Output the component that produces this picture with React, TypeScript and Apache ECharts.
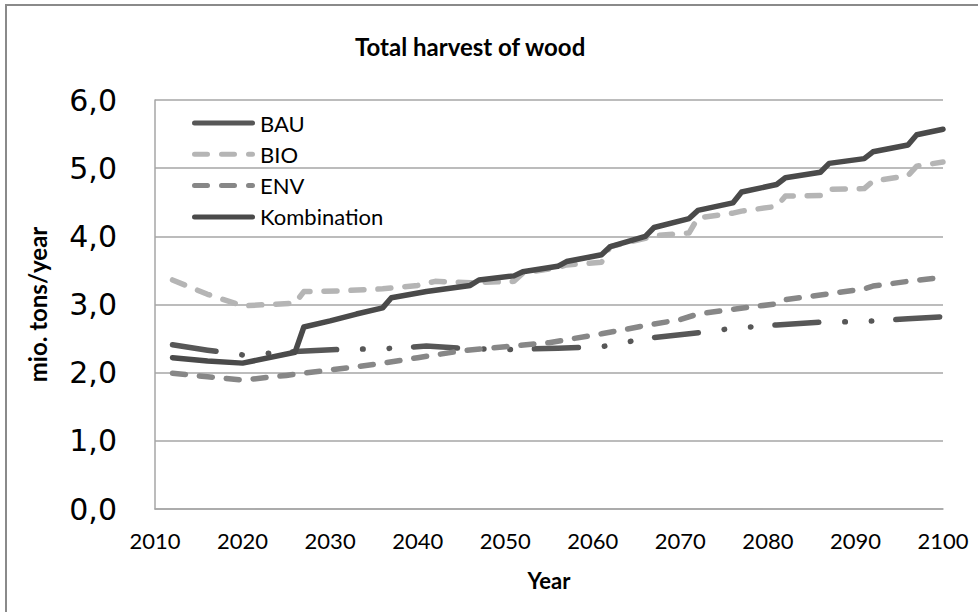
import React, { useEffect, useRef } from "react";
import * as echarts from "echarts";

const titleText = "Total harvest of wood";
const yAxisName = "mio. tons/year";
const xAxisName = "Year";
const seriesNames = ["BAU", "BIO", "ENV", "Kombination"];

const bau: [number, number][] = [
  [2012, 2.41], [2016, 2.33], [2020, 2.26], [2026, 2.31], [2031, 2.34], [2036, 2.35],
  [2041, 2.39], [2046, 2.35], [2051, 2.34], [2056, 2.36], [2061, 2.38], [2066, 2.5],
  [2071, 2.57], [2076, 2.65], [2081, 2.7], [2086, 2.74], [2091, 2.75], [2096, 2.79], [2100, 2.82],
];

const bio: [number, number][] = [
  [2012, 3.36], [2016, 3.15], [2020, 2.98], [2026, 3.02], [2027, 3.19], [2031, 3.2],
  [2036, 3.23], [2040, 3.28], [2042, 3.34], [2046, 3.32], [2051, 3.34], [2052, 3.46],
  [2056, 3.54], [2057, 3.58], [2061, 3.62], [2062, 3.85], [2066, 3.97], [2067, 4.01],
  [2071, 4.05], [2072, 4.27], [2076, 4.34], [2077, 4.37], [2081, 4.44], [2082, 4.59],
  [2086, 4.6], [2087, 4.69], [2091, 4.7], [2092, 4.81], [2096, 4.89], [2097, 5.03], [2100, 5.09],
];

const env: [number, number][] = [
  [2012, 1.99], [2016, 1.94], [2020, 1.89], [2025, 1.96], [2030, 2.04], [2035, 2.12],
  [2040, 2.22], [2045, 2.32], [2050, 2.38], [2055, 2.44], [2061, 2.57], [2066, 2.69],
  [2070, 2.78], [2072, 2.86], [2076, 2.93], [2081, 3.01], [2082, 3.07], [2086, 3.14],
  [2091, 3.23], [2092, 3.27], [2096, 3.34], [2100, 3.4],
];

const kombination: [number, number][] = [
  [2012, 2.22], [2016, 2.17], [2020, 2.14], [2026, 2.3], [2027, 2.67], [2030, 2.76],
  [2033, 2.86], [2036, 2.95], [2037, 3.1], [2041, 3.19], [2046, 3.28], [2047, 3.36],
  [2051, 3.42], [2052, 3.48], [2056, 3.56], [2057, 3.63], [2061, 3.73], [2062, 3.85],
  [2066, 4.0], [2067, 4.13], [2071, 4.26], [2072, 4.38], [2076, 4.49], [2077, 4.65],
  [2081, 4.76], [2082, 4.86], [2086, 4.94], [2087, 5.07], [2091, 5.14], [2092, 5.24],
  [2096, 5.34], [2097, 5.49], [2100, 5.57],
];

const seriesData = [bau, bio, env, kombination];
const seriesColors = ["#575757", "#b5b5b5", "#878787", "#4a4a4a"];
const seriesDash: (number[] | "solid")[] = [
  [44, 26, 0.5, 26, 0.5, 24],
  [13, 14],
  [13, 14],
  "solid",
];
// legend samples: BAU is drawn solid in the legend, like the original
const legendDash: (number[] | null)[] = [null, [13, 14], [13, 14], null];

export default function App() {
  const ref = useRef<HTMLDivElement>(null);
  useEffect(() => {
    if (!ref.current) return;
    const chart = echarts.init(ref.current, null, { renderer: "svg" });

    const legendTop = 123;
    const legendPitch = 31.3;
    const legendItems: any[] = [];
    seriesNames.forEach((n, i) => {
      const y = legendTop + i * legendPitch;
      legendItems.push({
        type: "line",
        silent: true,
        shape: { x1: 194.5, y1: y, x2: 252.5, y2: y },
        style: {
          stroke: seriesColors[i],
          lineWidth: 5,
          lineCap: "round",
          lineDash: legendDash[i] || undefined,
        },
      });
      legendItems.push({
        type: "text",
        silent: true,
        x: 260,
        y: y,
        style: {
          text: n,
          fill: "#000",
          font: "22px Lato",
          verticalAlign: "middle",
          align: "left",
        },
      });
    });

    chart.setOption({
      animation: false,
      backgroundColor: "#ffffff",
      title: {
        text: titleText,
        left: 350,
        top: 29,
        textStyle: { fontFamily: "Lato", fontWeight: "bold", fontSize: 24, color: "#000" },
      },
      graphic: [
        {
          type: "rect",
          silent: true,
          shape: { x: 6, y: 5, width: 1100, height: 800 },
          style: { fill: "none", stroke: "#8a8a8a", lineWidth: 2 },
        },
        ...legendItems,
      ],
      grid: { left: 155, right: 35, top: 100, bottom: 103, containLabel: false },
      xAxis: {
        type: "value",
        min: 2010,
        max: 2100,
        interval: 10,
        name: xAxisName,
        nameLocation: "middle",
        nameGap: 60,
        nameTextStyle: { fontFamily: "Lato", fontWeight: "bold", fontSize: 22, color: "#000" },
        axisLine: { show: true, lineStyle: { color: "#a6a6a6", width: 1.5 } },
        axisTick: { show: false },
        splitLine: { show: false },
        axisLabel: {
          fontFamily: "Lato",
          fontSize: 22,
          color: "#000",
          margin: 20,
          formatter: (v: number) => String(v),
        },
      },
      yAxis: {
        type: "value",
        min: 0,
        max: 6,
        interval: 1,
        name: yAxisName,
        nameLocation: "middle",
        nameGap: 106,
        nameTextStyle: { fontFamily: "Lato", fontWeight: "bold", fontSize: 24, color: "#000" },
        axisLine: { show: true, lineStyle: { color: "#a6a6a6", width: 1.5 } },
        axisTick: { show: false },
        splitLine: { show: true, lineStyle: { color: "#a6a6a6", width: 1.5 } },
        axisLabel: {
          fontFamily: "DejaVu Sans",
          fontSize: 30,
          color: "#000",
          margin: 38,
          formatter: (v: number) => v.toFixed(1).replace(".", ","),
        },
      },
      series: seriesNames.map((n, i) => ({
        name: n,
        type: "line",
        data: seriesData[i],
        symbol: "none",
        showSymbol: false,
        z: 2 + i,
        lineStyle: {
          color: seriesColors[i],
          width: 5.5,
          type: seriesDash[i],
          cap: "round",
          join: "round",
        },
        itemStyle: { color: seriesColors[i] },
      })),
    });
    return () => chart.dispose();
  }, []);
  return (
    <div
      ref={ref}
      style={{ position: "absolute", left: 0, top: 0, width: 978, height: 612 }}
    />
  );
}
